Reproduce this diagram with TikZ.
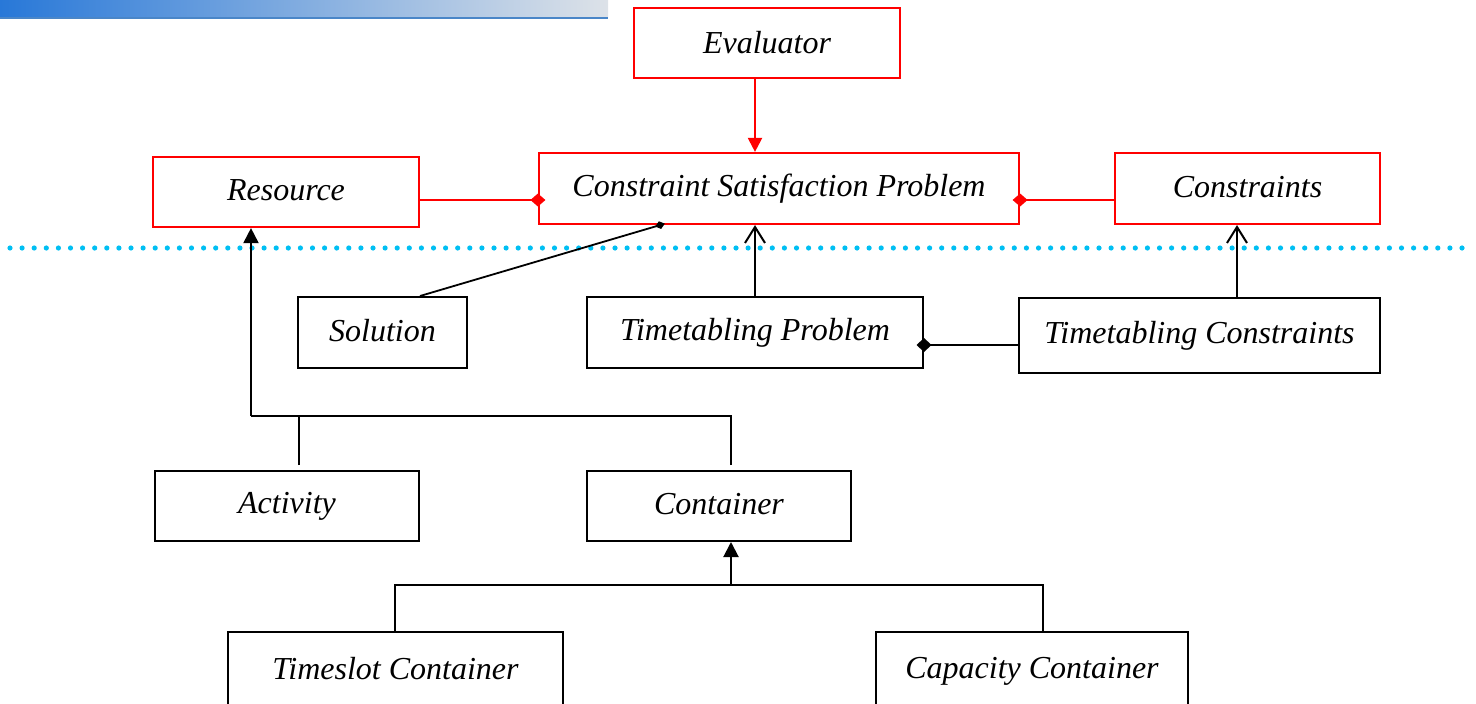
\documentclass[tikz,border=0pt]{standalone}
\usepackage{fontspec}
\setmainfont{Liberation Serif}
\usetikzlibrary{arrows.meta,calc}
\definecolor{uired}{HTML}{FF0000}
\definecolor{dotcyan}{HTML}{00BFF3}
\definecolor{barleft}{HTML}{2878D8}
\definecolor{barright}{HTML}{DDE2E8}
\definecolor{barline}{HTML}{4A86C8}
\tikzset{
  box/.style={draw=black, line width=2pt, fill=white, inner sep=0pt,
    font=\fontsize{32}{38}\selectfont\itshape},
  redbox/.style={box, draw=uired, line width=2.2pt},
  conn/.style={draw=black, line width=2pt},
  redconn/.style={draw=uired, line width=2.2pt},
  reddiam/.style={redconn, {Diamond[length=15pt,width=13pt,fill=uired]}-, shorten <=-7.5pt},
  blkdiam/.style={conn, {Diamond[length=15pt,width=14pt]}-, shorten <=-7.5pt},
  opentip/.style={conn, -{Straight Barb[length=16pt,width=20pt,line width=2pt]}},
  filltip/.style={conn, -{Triangle[length=15pt,width=15pt]}},
  up/.style={text depth=0pt},
}
\begin{document}
\begin{tikzpicture}[x=1pt,y=-1pt]
\useasboundingbox (0,0) rectangle (1476,704);
\clip (0,0) rectangle (1476,704);
% top banner
\shade[left color=barleft, right color=barright] (0,0) rectangle (608,17);
\draw[barline, line width=2pt] (0,18) -- (608,18);
% dotted separator
\draw[dotcyan, line width=5.2pt, line cap=round, dash pattern=on 0pt off 12.1pt] (10,248) -- (1470,248);
% nodes
\node[redbox, minimum width=266pt, minimum height=70pt] (ev) at (767,43) {\raisebox{2pt}{Evaluator}};
\node[redbox, minimum width=266pt, minimum height=70pt] (res) at (286,192) {\raisebox{3pt}{Resource}};
\node[redbox, minimum width=480pt, minimum height=71pt] (csp) at (779,188.5) {\raisebox{4pt}{Constraint Satisfaction Problem}};
\node[redbox, minimum width=265pt, minimum height=71pt] (cons) at (1247.5,188.5) {\raisebox{4pt}{Constraints}};
\node[box, minimum width=169pt, minimum height=71pt] (sol) at (382.5,332.5) {\raisebox{4pt}{Solution}};
\node[box, minimum width=336pt, minimum height=71pt] (tp) at (755,332.5) {\raisebox{5pt}{Timetabling Problem}};
\node[box, minimum width=361pt, minimum height=75pt] (tc) at (1199.5,335.5) {\raisebox{3pt}{Timetabling Constraints}};
\node[box, minimum width=264pt, minimum height=70pt] (act) at (287,506) {\raisebox{4pt}{Activity}};
\node[box, minimum width=264pt, minimum height=70pt] (con) at (719,506) {\raisebox{4pt}{Container}};
\node[box, minimum width=335pt, minimum height=80pt, up] (ts) at (395.5,672) {\raisebox{8pt}{Timeslot Container}};
\node[box, minimum width=312pt, minimum height=80pt, up] (cc) at (1032,672) {\raisebox{8pt}{Capacity Container}};
% connectors
\draw[redconn, -{Triangle[length=14pt,width=14pt,fill=uired]}] (ev.south -| tp.north) -- (csp.north -| tp.north);
\draw[reddiam] (csp.west |- 0,200) -- (res.east |- 0,200);
\draw[reddiam] (csp.east |- 0,200) -- (cons.west |- 0,200);
\draw[conn, line width=1.8pt, {Diamond[length=10pt,width=8pt]}-, shorten <=-5pt] (csp.south -| 660,0) -- (sol.north -| 420,0);
\draw[opentip] (tp.north) -- (csp.south -| tp.north);
\draw[opentip] (tc.north -| 1237,0) -- (cons.south -| 1237,0);
\draw[blkdiam] (tp.east |- 0,345) -- (tc.west |- 0,345);
% generalization tree 1
\coordinate (j1) at (251,416);
\draw[conn] ($(act.north -| 299,0)+(0,-5)$) -- (299,416);
\draw[conn] ($(con.north -| 731,0)+(0,-5)$) -- (731,416) -- (j1);
\draw[filltip] (j1) -- (res.south -| j1);
% generalization tree 2
\coordinate (j2) at (731,585);
\draw[conn] (ts.north -| 395,0) -- (395,585) -- (1043,585) -- (cc.north -| 1043,0);
\draw[filltip] (j2) -- (con.south -| j2);
\end{tikzpicture}
\end{document}
